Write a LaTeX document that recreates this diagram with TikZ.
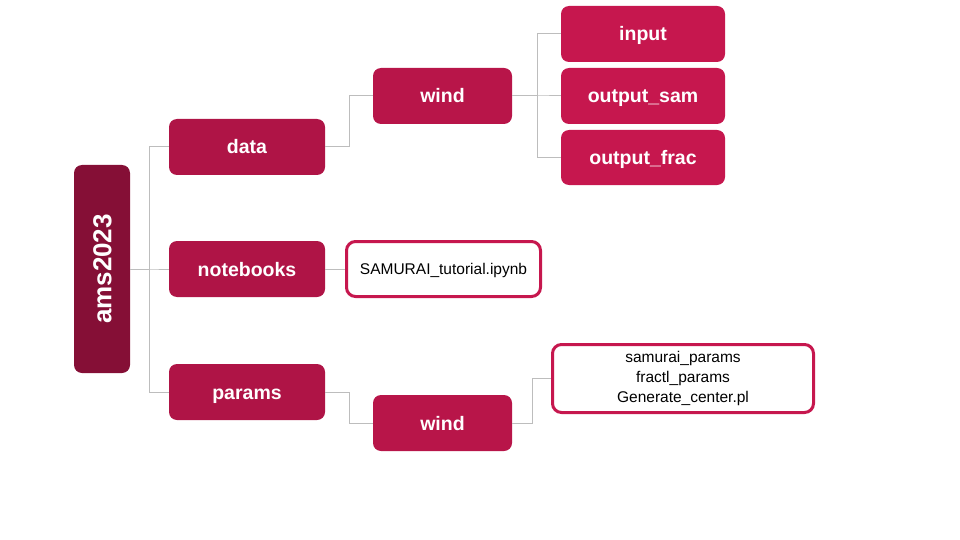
\documentclass[tikz,border=0pt]{standalone}
\usepackage{fontspec}
\setmainfont{Liberation Sans}
\definecolor{rootc}{HTML}{850F36}
\definecolor{lvone}{HTML}{AF1446}
\definecolor{lvtwo}{HTML}{B81549}
\definecolor{lvthree}{HTML}{C6174E}
\definecolor{connc}{HTML}{BDBDBD}
\tikzset{
  box/.style={rectangle, rounded corners=8pt, text=white, font=\bfseries\fontsize{19.5}{22}\selectfont, inner sep=0pt, align=center, text height=14pt, text depth=0pt},
  rootbox/.style={box, fill=rootc, minimum width=56pt, minimum height=208pt},
  lvonebox/.style={box, fill=lvone, minimum width=156pt, minimum height=56pt},
  lvtwobox/.style={box, fill=lvtwo, minimum width=139pt, minimum height=56pt},
  lvthreebox/.style={box, fill=lvthree, minimum width=164pt, minimum height=56pt},
  filebox/.style={rectangle, rounded corners=9pt, draw=lvthree, line width=3pt, fill=white, text=black, font=\fontsize{15.5}{20}\selectfont, align=center, inner sep=0pt},
  conn/.style={draw=connc, line width=1pt}
}
\begin{document}
\begin{tikzpicture}[x=1pt, y=-1pt]
\useasboundingbox (0,0) rectangle (960,540);
\node[rootbox] (root) at (102,269) {};
\node[rotate=90, text=white, inner sep=0pt, text height=18.5pt, text depth=0pt, font=\bfseries\fontsize{26}{28}\selectfont] (roottext) at (root.center) {ams2023};
\node[lvonebox] (data) at (247,147) {data};
\node[lvonebox] (notebooks) at (247,269) {notebooks};
\node[lvonebox] (params) at (247,392) {params};
\node[lvtwobox] (windA) at (442.5,96) {wind};
\node[lvtwobox] (windB) at (442.5,423) {wind};
\node[lvthreebox] (input) at (643,34) {input};
\node[lvthreebox] (outsam) at (643,96) {output\_sam};
\node[lvthreebox, minimum height=55pt] (outfrac) at (643,157.5) {output\_frac};
\node[filebox, minimum width=194pt, minimum height=55pt, text height=11.2pt, text depth=0pt] (nb) at (443.5,269) {SAMURAI\_tutorial.ipynb};
\node[filebox, minimum width=261pt, minimum height=68pt] (pfiles) at (683,378.5) {samurai\_params\\fractl\_params\\Generate\_center.pl};
\draw[conn] (root.east) -- ++(19,0) |- (data.west);
\draw[conn] (root.east) -- ++(19,0) |- (notebooks.west);
\draw[conn] (root.east) -- ++(19,0) |- (params.west);
\draw[conn] (data.east) -- ++(24,0) |- (windA.west);
\draw[conn] (windA.east) -- ++(25,0) |- (input.west);
\draw[conn] (windA.east) -- ++(25,0) |- (outsam.west);
\draw[conn] (windA.east) -- ++(25,0) |- (outfrac.west);
\draw[conn] (notebooks.east) -- (nb.west);
\draw[conn] (params.east) -- ++(24,0) |- (windB.west);
\draw[conn] (windB.east) -- ++(20,0) |- (pfiles.west);
\end{tikzpicture}
\end{document}
